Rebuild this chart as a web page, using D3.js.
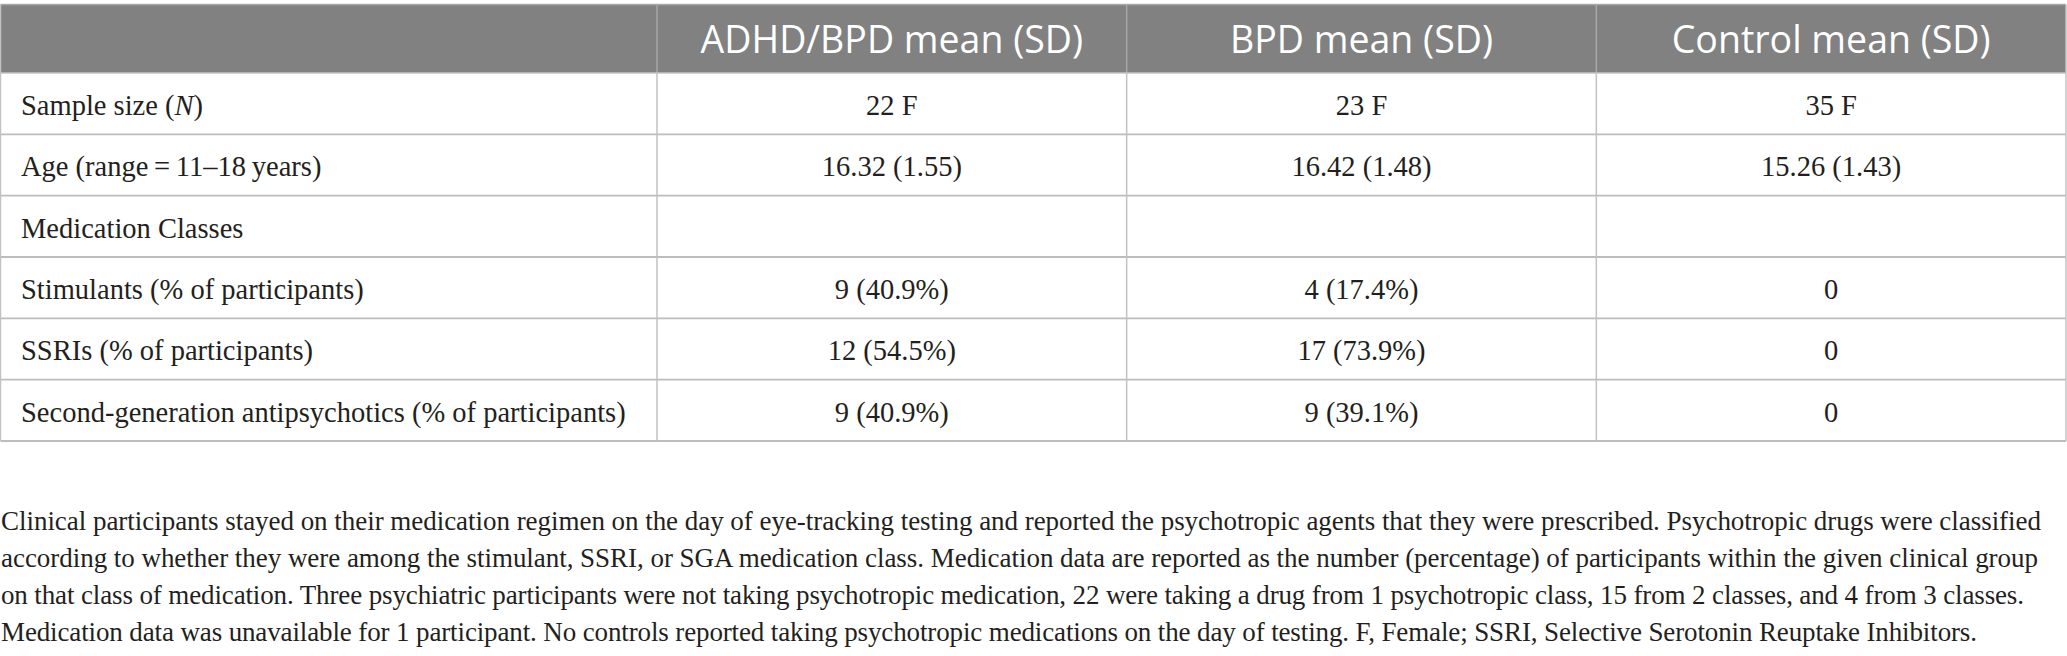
<!DOCTYPE html>
<html>
<head>
<meta charset="utf-8">
<script src="https://cdn.jsdelivr.net/npm/d3@7"></script>
<style>
  html, body { margin: 0; padding: 0; background: #ffffff; }
  svg { display: block; }
</style>
</head>
<body>
<svg id="chart" width="2067" height="656"></svg>
<script>
// ---- data ----
const groups = ["ADHD/BPD mean (SD)", "BPD mean (SD)", "Control mean (SD)"];
const rowLabels = [
  "Sample size (N)",
  "Age (range\u2009=\u200911\u201318\u2009years)",
  "Medication Classes",
  "Stimulants (% of participants)",
  "SSRIs (% of participants)",
  "Second-generation antipsychotics (% of participants)"
];
const adhdBpdValues = ["22 F", "16.32 (1.55)", "", "9 (40.9%)", "12 (54.5%)", "9 (40.9%)"];
const bpdValues     = ["23 F", "16.42 (1.48)", "", "4 (17.4%)", "17 (73.9%)", "9 (39.1%)"];
const controlValues = ["35 F", "15.26 (1.43)", "", "0", "0", "0"];
const footnoteLines = [
  "Clinical participants stayed on their medication regimen on the day of eye-tracking testing and reported the psychotropic agents that they were prescribed. Psychotropic drugs were classified",
  "according to whether they were among the stimulant, SSRI, or SGA medication class. Medication data are reported as the number (percentage) of participants within the given clinical group",
  "on that class of medication. Three psychiatric participants were not taking psychotropic medication, 22 were taking a drug from 1 psychotropic class, 15 from 2 classes, and 4 from 3 classes.",
  "Medication data was unavailable for 1 participant. No controls reported taking psychotropic medications on the day of testing. F, Female; SSRI, Selective Serotonin Reuptake Inhibitors."
];

// ---- layout ----
const L = {
  left: 0.5, right: 2066, firstColRight: 657,
  headTop: 4.5, headBottom: 73, tableBottom: 441,
  headBaseline: 53,
  padLeft: 21,
  headFont: "'Open Sans', 'Noto Sans', sans-serif", headSize: 37.5,
  bodyFont: "'Liberation Serif', 'DejaVu Serif', serif", bodySize: 28.5,
  noteSize: 27, noteTop: 530, noteStep: 37,
  noteWidths: [2040, 2037, 2023, 1976]
};

const columns = [adhdBpdValues, bpdValues, controlValues];
const svg = d3.select("#chart");

const x = d3.scaleBand().domain(groups).range([L.firstColRight, L.right]).padding(0);
const y = d3.scaleBand().domain(rowLabels).range([L.headBottom, L.tableBottom]).padding(0);

// header background
svg.append("rect")
  .attr("x", L.left).attr("y", L.headTop)
  .attr("width", L.right - L.left).attr("height", L.headBottom - L.headTop)
  .attr("fill", "#808180");
// header top border
svg.append("line")
  .attr("x1", L.left).attr("x2", L.right)
  .attr("y1", L.headTop).attr("y2", L.headTop)
  .attr("stroke", "#a9aaa9").attr("stroke-width", 1.5);

// header separators
svg.selectAll("line.hsep").data(groups).join("line")
  .attr("class", "hsep")
  .attr("x1", d => x(d)).attr("x2", d => x(d))
  .attr("y1", L.headTop).attr("y2", L.headBottom)
  .attr("stroke", "#a6a7a6").attr("stroke-width", 1.5);

// header text
svg.selectAll("text.head").data(groups).join("text")
  .attr("class", "head")
  .attr("x", d => x(d) + x.bandwidth() / 2)
  .attr("y", L.headBaseline)
  .attr("text-anchor", "middle")
  .attr("fill", "#ffffff")
  .style("font-family", L.headFont)
  .style("font-size", L.headSize + "px")
  .text(d => d);

// horizontal row lines
svg.selectAll("line.hrow").data(rowLabels).join("line")
  .attr("class", "hrow")
  .attr("x1", L.left).attr("x2", L.right)
  .attr("y1", d => y(d) + y.bandwidth()).attr("y2", d => y(d) + y.bandwidth())
  .attr("stroke", "#bdbdbd").attr("stroke-width", 1.8);
svg.append("line")
  .attr("x1", L.left).attr("x2", L.right)
  .attr("y1", L.headBottom).attr("y2", L.headBottom)
  .attr("stroke", "#c4c4c4").attr("stroke-width", 1.5);

// vertical lines in body
const vx = [L.left, ...groups.map(g => x(g)), L.right];
svg.selectAll("line.vcol").data(vx).join("line")
  .attr("class", "vcol")
  .attr("x1", d => d).attr("x2", d => d)
  .attr("y1", (d, i) => (i === 0 || i === vx.length - 1) ? L.headTop : L.headBottom)
  .attr("y2", L.tableBottom)
  .attr("stroke", "#c2c2c2").attr("stroke-width", 1.5);

// row labels
const lbl = svg.selectAll("text.rowlbl").data(rowLabels).join("text")
  .attr("class", "rowlbl")
  .attr("x", L.padLeft)
  .attr("y", d => y(d) + y.bandwidth() / 2)
  .attr("dy", "0.4em")
  .attr("fill", "#231f20")
  .style("font-family", L.bodyFont)
  .style("font-size", L.bodySize + "px");
lbl.each(function(d) {
  const t = d3.select(this);
  const m = d.match(/^(.*\()N(\))$/);
  if (m) {
    t.append("tspan").text(m[1]);
    t.append("tspan").style("font-style", "italic").text("N");
    t.append("tspan").text(m[2]);
  } else {
    t.text(d);
  }
});

// cell values
groups.forEach((g, gi) => {
  svg.selectAll("text.cell" + gi).data(columns[gi].map((v, i) => ({ v, r: rowLabels[i] })))
    .join("text")
    .attr("class", "cell" + gi)
    .attr("x", x(g) + x.bandwidth() / 2)
    .attr("y", d => y(d.r) + y.bandwidth() / 2)
    .attr("dy", "0.4em")
    .attr("text-anchor", "middle")
    .attr("fill", "#231f20")
    .style("font-family", L.bodyFont)
    .style("font-size", L.bodySize + "px")
    .text(d => d.v);
});

// footnote
svg.selectAll("text.note").data(footnoteLines).join("text")
  .attr("class", "note")
  .attr("x", 1)
  .attr("y", (d, i) => L.noteTop + i * L.noteStep)
  .attr("fill", "#231f20")
  .attr("textLength", (d, i) => L.noteWidths[i])
  .attr("lengthAdjust", "spacing")
  .style("font-family", L.bodyFont)
  .style("font-size", L.noteSize + "px")
  .text(d => d);
</script>
</body>
</html>
